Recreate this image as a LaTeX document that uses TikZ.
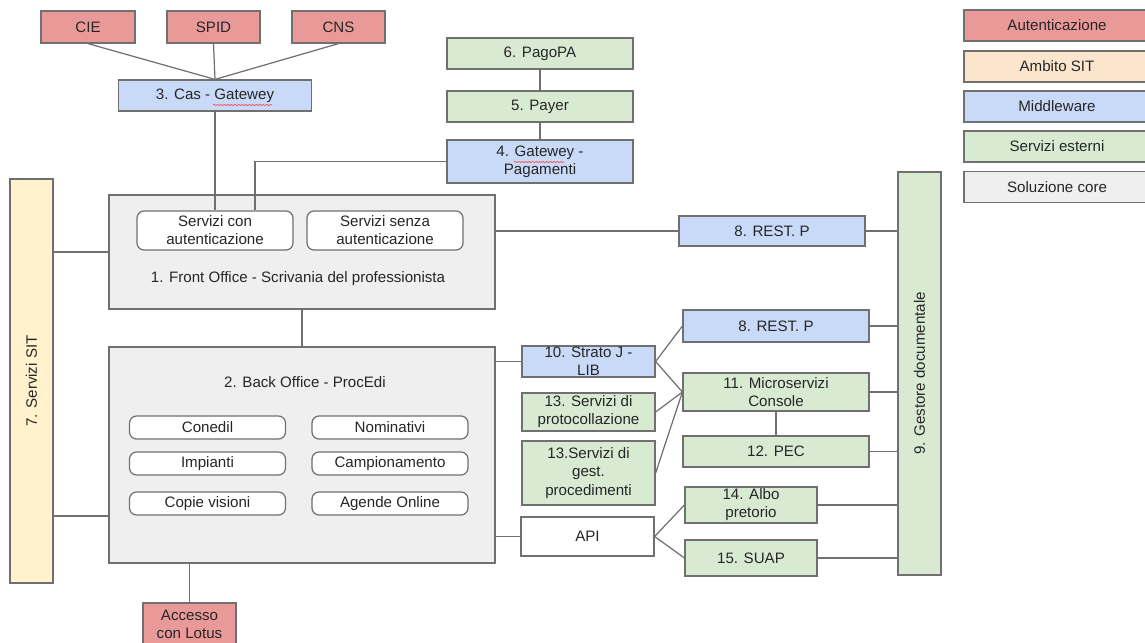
\documentclass[tikz,border=0pt]{standalone}
\usepackage{fontspec}
\setmainfont{Liberation Sans}
\usetikzlibrary{positioning,calc,decorations.pathmorphing}
\definecolor{archred}{RGB}{234,153,153}
\definecolor{archorange}{RGB}{252,229,205}
\definecolor{archblue}{RGB}{201,218,248}
\definecolor{archgreen}{RGB}{217,234,211}
\definecolor{archgray}{RGB}{239,239,239}
\definecolor{archyellow}{RGB}{255,242,204}
\definecolor{archline}{RGB}{112,112,112}

\begin{document}
\begin{tikzpicture}[x=0.02cm,y=-0.02cm,
 base/.style={draw=archline,line width=0.7pt,align=center,inner sep=1pt,
  text=black!85,font=\fontsize{8.6}{10.3}\selectfont},
 authbox/.style={base,fill=archred},
 midbox/.style={base,fill=archblue},
 extbox/.style={base,fill=archgreen},
 corebox/.style={base,fill=archgray},
 sitbox/.style={base,fill=archyellow},
 subbox/.style={base,fill=white,rounded corners=1.4mm},
 plain/.style={base,draw=none},
 wire/.style={draw=archline,line width=0.7pt},
 squiggle/.style={red!75,line width=0.35pt,decorate,
  decoration={snake,amplitude=0.35pt,segment length=2pt}}]
\fill[white] (0,0) rectangle (1145,642);
\useasboundingbox (0,0) rectangle (1145,642);

% autenticazione
\node[authbox,minimum width=1.88cm,minimum height=0.64cm] (cie) at (88,27) {CIE};
\node[authbox,minimum width=1.86cm,minimum height=0.64cm] (spid) at (213.5,27) {SPID};
\node[authbox,minimum width=1.86cm,minimum height=0.64cm] (cns) at (338.5,27) {CNS};
\node[midbox,minimum width=3.86cm,minimum height=0.62cm] (cas) at (215,95.5) {3. Cas - Gatewey};

% front office
\node[corebox,minimum width=7.72cm,minimum height=2.28cm] (front) at (302,252) {};
\node[plain] (fotitle) at (298,279) {1. Front Office - Scrivania del professionista};
\node[subbox,minimum width=3.12cm,minimum height=0.78cm] (sca) at (215,230.5) {Servizi con\\autenticazione};
\node[subbox,minimum width=3.12cm,minimum height=0.78cm] (ssa) at (385,230.5) {Servizi senza\\autenticazione};

% pagamenti
\node[extbox,minimum width=3.72cm,minimum height=0.62cm] (pagopa) at (540,53.5) {6. PagoPA};
\node[extbox,minimum width=3.72cm,minimum height=0.62cm] (payer) at (540,106.5) {5. Payer};
\node[midbox,minimum width=3.72cm,minimum height=0.86cm] (gwpag) at (540,161.5) {4. Gatewey -\\Pagamenti};
\node[midbox,minimum width=3.72cm,minimum height=0.6cm] (restA) at (772,231) {8. REST. P};

% colonne laterali
\node[extbox,minimum width=0.86cm,minimum height=8.06cm] (gestore) at (919.5,373.5) {\rotatebox{90}{9. Gestore documentale}};
\node[sitbox,minimum width=0.86cm,minimum height=8.08cm] (sit) at (31.5,381) {\rotatebox{90}{7. Servizi SIT}};

% back office
\node[corebox,minimum width=7.72cm,minimum height=4.32cm] (back) at (302,455) {};
\node[plain] (botitle) at (305,382) {2. Back Office - ProcEdi};
\node[subbox,minimum width=3.12cm,minimum height=0.46cm] (conedil) at (207.5,427.5) {Conedil};
\node[subbox,minimum width=3.12cm,minimum height=0.46cm] (nomin) at (390,427.5) {Nominativi};
\node[subbox,minimum width=3.12cm,minimum height=0.46cm] (impianti) at (207.5,463.5) {Impianti};
\node[subbox,minimum width=3.12cm,minimum height=0.46cm] (campion) at (390,463.5) {Campionamento};
\node[subbox,minimum width=3.12cm,minimum height=0.46cm] (copie) at (207.5,503.5) {Copie visioni};
\node[subbox,minimum width=3.12cm,minimum height=0.46cm] (agende) at (390,503.5) {Agende Online};
\node[authbox,minimum width=1.86cm,minimum height=0.84cm] (lotus) at (189.5,624) {Accesso\\con Lotus};

% servizi a destra
\node[midbox,minimum width=2.66cm,minimum height=0.62cm,inner sep=0pt] (strato) at (588.5,361.5) {10. Strato J -\\LIB};
\node[extbox,minimum width=2.66cm,minimum height=0.76cm,inner sep=0pt] (proto) at (588.5,412) {13. Servizi di\\protocollazione};
\node[extbox,minimum width=2.66cm,minimum height=1.28cm,inner sep=0pt] (gestproc) at (588.5,473) {13.Servizi di\\gest.\\procedimenti};
\node[base,fill=white,minimum width=2.66cm,minimum height=0.78cm] (api) at (587.5,536.5) {API};
\node[midbox,minimum width=3.72cm,minimum height=0.64cm] (restB) at (776,326) {8. REST. P};
\node[extbox,minimum width=3.72cm,minimum height=0.76cm,inner sep=0pt] (micro) at (776,392) {11. Microservizi\\Console};
\node[extbox,minimum width=3.72cm,minimum height=0.62cm] (pec) at (776,451.5) {12. PEC};
\node[extbox,minimum width=2.64cm,minimum height=0.72cm,inner sep=0pt] (albo) at (751,505) {14. Albo\\pretorio};
\node[extbox,minimum width=2.64cm,minimum height=0.72cm] (suap) at (751,558) {15. SUAP};

% legenda
\node[authbox,minimum width=3.72cm,minimum height=0.62cm] (legauth) at (1057,25.5) {Autenticazione};
\node[base,fill=archorange,minimum width=3.72cm,minimum height=0.62cm] (legsit) at (1057,66.5) {Ambito SIT};
\node[midbox,minimum width=3.72cm,minimum height=0.62cm] (legmid) at (1057,106.5) {Middleware};
\node[extbox,minimum width=3.72cm,minimum height=0.62cm] (legext) at (1057,146.5) {Servizi esterni};
\node[corebox,minimum width=3.72cm,minimum height=0.62cm] (legcore) at (1057,187) {Soluzione core};

% collegamenti
\draw[wire] (cie.south) -- (cas.north);
\draw[wire] (spid.south) -- (cas.north);
\draw[wire] (cns.south) -- (cas.north);
\draw[wire] (cas.south) -- (sca.north);
\draw[wire] (pagopa.south) -- (payer.north);
\draw[wire] (payer.south) -- (gwpag.north);
\draw[wire] (gwpag.west) -| ([xshift=0.8cm]sca.north);
\draw[wire] (restA.west -| front.east) -- (restA.west);
\draw[wire] (restA.east) -- (restA.east -| gestore.west);
\draw[wire] (sit.east |- front.west) -- (front.west);
\draw[wire] ([yshift=-1.22cm]back.west -| sit.east) -- ([yshift=-1.22cm]back.west);
\draw[wire] (front.south) -- (back.north);
\draw[wire] (lotus.north |- back.south) -- (lotus.north);
\draw[wire] (strato.west -| back.east) -- (strato.west);
\draw[wire] (api.west -| back.east) -- (api.west);
\draw[wire] (strato.east) -- (restB.west);
\draw[wire] (strato.east) -- (micro.west);
\draw[wire] (proto.east) -- (micro.west);
\draw[wire] (gestproc.east) -- (micro.west);
\draw[wire] (micro.south) -- (pec.north);
\draw[wire] (api.east) -- (albo.west);
\draw[wire] (api.east) -- (suap.west);
\foreach \src in {restB,micro,pec,albo,suap}
 \draw[wire] (\src.east) -- (\src.east -| gestore.west);

% sottolineature ortografiche
\draw[squiggle] (213,105) -- (272,105);
\draw[squiggle] (514,162) -- (564,162);
\end{tikzpicture}
\end{document}
